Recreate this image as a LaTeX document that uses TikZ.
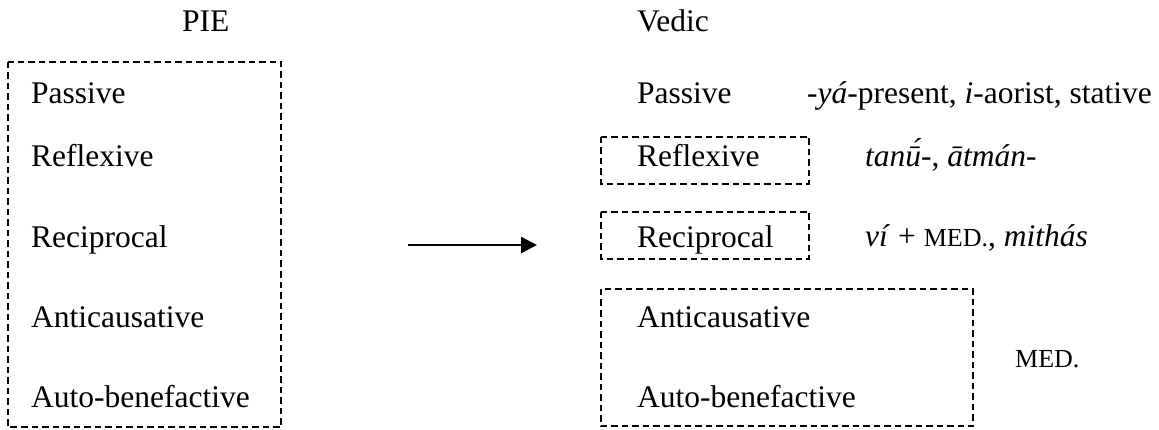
\documentclass[tikz,border=0pt]{standalone}
\usepackage{fontspec}
\setmainfont{Liberation Serif}
\usetikzlibrary{arrows.meta}
\newcommand{\medsc}{{\fontsize{26}{30}\selectfont MED.}}
\tikzset{
  lbl/.style={anchor=base west, inner sep=0pt, font=\fontsize{31.5}{38}\selectfont},
  dbox/.style={draw, line width=1.7pt, dash pattern=on 6.5pt off 4pt},
  arr/.style={line width=2.6pt, -{Triangle[length=16pt,width=16pt]}}
}
\begin{document}
\begin{tikzpicture}[x=1pt,y=-1pt]
\useasboundingbox (0,0) rectangle (1159,430);
% headers
\node[lbl] (pie) at (182,32) {PIE};
\node[lbl] (vedic) at (637,32) {Vedic};
% left box
\draw[dbox] (8,62) rectangle (281,427);
\node[lbl] (lpass) at (31,104) {Passive};
\node[lbl] (lrefl) at (31,167) {Reflexive};
\node[lbl] (lrec) at (31,248) {Reciprocal};
\node[lbl] (lanti) at (31,327) {Anticausative};
\node[lbl] (lauto) at (31,407) {Auto-benefactive};
% arrow
\coordinate (as) at (408,245);
\coordinate (ae) at (537,245);
\draw[arr] (as) -- (ae);
% right side
\node[lbl] (rpass) at (637,104) {Passive};
\node[lbl] (rpassx) at (807,104) {\textit{-yá-}present, \textit{i}-aorist, stative};
\draw[dbox] (601,137) rectangle (809,184);
\node[lbl] (rrefl) at (637,167) {Reflexive};
\node[lbl] (rreflx) at (865,167) {\textit{tanū́-}, \textit{ātmán-}};
\draw[dbox] (601,212) rectangle (809,259);
\node[lbl] (rrec) at (637,248) {Reciprocal};
\node[lbl] (rrecx) at (865,247) {\textit{ví} + \medsc, \textit{mithás}};
\draw[dbox] (601,289) rectangle (973,426);
\node[lbl] (ranti) at (637,327) {Anticausative};
\node[lbl] (rauto) at (637,407) {Auto-benefactive};
\node[lbl] (rmed) at (1015,367) {\medsc};
\end{tikzpicture}
\end{document}
